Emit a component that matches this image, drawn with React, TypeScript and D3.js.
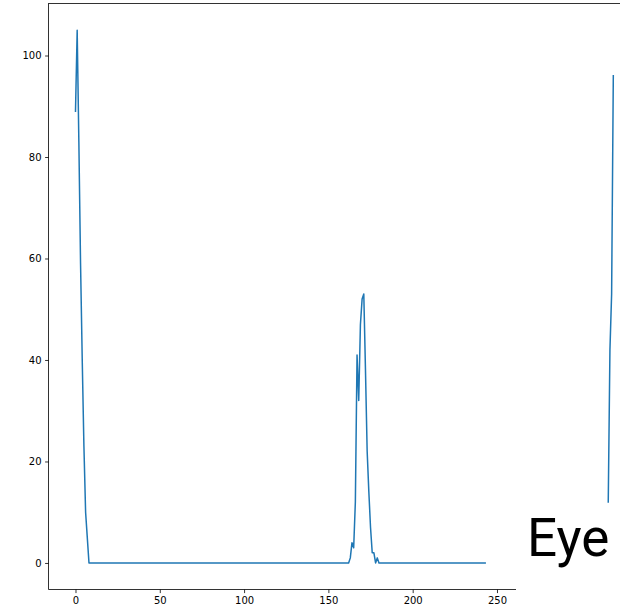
import * as d3 from 'd3'
import { useEffect, useRef } from 'react'

// points; flat runs at zero are kept as their end points
const firstX = [0, 1, 2, 3, 4, 5, 6, 7, 8, 162, 163, 164, 165, 166, 167, 168, 169, 170, 171, 172, 173, 174, 175, 176, 177, 178, 179, 180, 243]
const firstY = [89, 105, 83, 59, 40, 23, 10, 5, 0, 0, 1, 4, 3, 12, 41, 32, 47, 52, 53, 38, 22, 14, 7, 2, 2, 0, 1, 0, 0]

const secondX = [316, 317, 318, 319]
const secondY = [12, 42, 53, 96]

const xTicks = [0, 50, 100, 150, 200, 250, 300]
const yTicks = [0, 20, 40, 60, 80, 100]
const label = 'Eye'

export default function App() {
  const ref = useRef<SVGSVGElement | null>(null)

  useEffect(() => {
    if (!ref.current) return
    const width = 620
    const height = 608
    const svg = d3.select(ref.current)
    svg.selectAll('*').remove()

    const x = d3.scaleLinear().domain([-15.95, 334.95]).range([48.6, 640.2])
    const y = d3.scaleLinear().domain([-5.25, 110.25]).range([589.6, 3.5])
    const [x0, x1] = x.range()
    const [y0, y1] = y.range()

    svg.append('rect').attr('width', width).attr('height', height).attr('fill', '#fff')

    svg.append('clipPath').attr('id', 'plot')
      .append('rect')
      .attr('x', x0).attr('y', y1)
      .attr('width', x1 - x0).attr('height', y0 - y1)

    const line = d3.line<[number, number]>()
      .x(d => x(d[0]))
      .y(d => y(d[1]))

    const series = [
      firstX.map((v, i) => [v, firstY[i]] as [number, number]),
      secondX.map((v, i) => [v, secondY[i]] as [number, number]),
    ]

    svg.append('g').attr('clip-path', 'url(#plot)')
      .selectAll('path')
      .data(series)
      .join('path')
      .attr('fill', 'none')
      .attr('stroke', '#1f77b4')
      .attr('stroke-width', 1.5)
      .attr('stroke-linejoin', 'round')
      .attr('stroke-linecap', 'square')
      .attr('d', line)

    const font = "'DejaVu Sans', sans-serif"

    const gx = svg.append('g')
      .attr('transform', `translate(0, ${y0})`)
      .call(d3.axisBottom(x).tickValues(xTicks).tickSize(3.5).tickPadding(3.5).tickFormat(d3.format('d')) as any)
    const gy = svg.append('g')
      .attr('transform', `translate(${x0}, 0)`)
      .call(d3.axisLeft(y).tickValues(yTicks).tickSize(3.5).tickPadding(3.5).tickFormat(d3.format('d')) as any)

    for (const g of [gx, gy]) {
      g.select('.domain').remove()
      g.selectAll('line').attr('stroke', '#000').attr('stroke-width', 0.8)
      g.selectAll('text').attr('fill', '#000').attr('font-family', font).attr('font-size', 10)
    }

    // spines
    svg.append('rect')
      .attr('x', x0).attr('y', y1)
      .attr('width', x1 - x0).attr('height', y0 - y1)
      .attr('fill', 'none')
      .attr('stroke', '#000')
      .attr('stroke-width', 0.8)

    // text box laid over the lower right corner
    svg.append('rect')
      .attr('x', 516).attr('y', 503)
      .attr('width', width - 516).attr('height', height - 503)
      .attr('fill', '#fff')

    svg.append('text')
      .attr('x', 527)
      .attr('y', 556)
      .attr('font-family', 'Roboto, sans-serif')
      .attr('font-size', 53)
      .attr('fill', '#000')
      .text(label)
  }, [])

  return (
    <svg
      ref={ref}
      width={620}
      height={608}
      style={{ position: 'absolute', left: 0, top: 0 }}
    />
  )
}
